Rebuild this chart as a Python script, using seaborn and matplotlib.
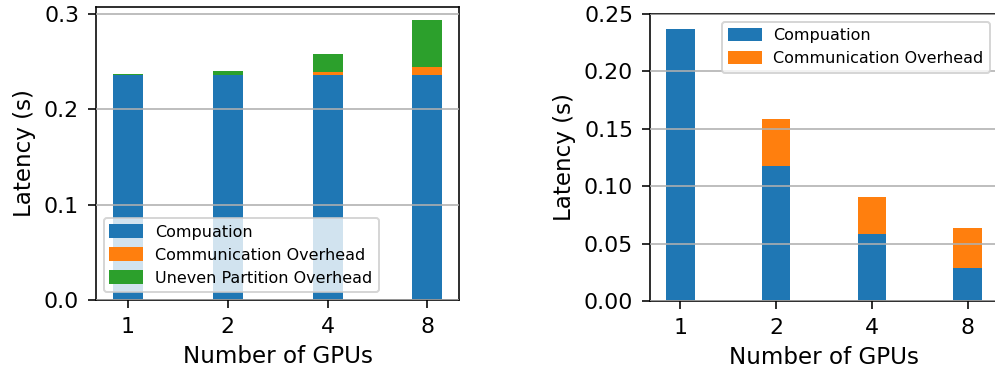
import matplotlib
matplotlib.use("Agg")
import matplotlib.pyplot as plt
import matplotlib.patches as mpatches
import pandas as pd
import seaborn as sns

# GPU counts shown on the x axis
gpus = ["1", "2", "4", "8"]

# Left panel: latency breakdown (seconds)
left_compute = [0.2357, 0.2357, 0.2357, 0.2357]
left_comm = [0.0000, 0.0000, 0.0034, 0.0087]
left_uneven = [0.0015, 0.0045, 0.0189, 0.0493]

# Right panel: latency breakdown (seconds)
right_compute = [0.2365, 0.1178, 0.0585, 0.0288]
right_comm = [0.0007, 0.0410, 0.0323, 0.0349]

labels = ["Compuation", "Communication Overhead", "Uneven Partition Overhead"]
colors = ["#1f77b4", "#ff7f0e", "#2ca02c"]

TICK_FS = 11
LABEL_FS = 11.5
LEGEND_FS = 8

DPI = 144
fig = plt.figure(figsize=(995 / DPI, 372 / DPI), dpi=DPI)
plt.rcParams["font.family"] = ["DejaVu Sans"]

ax1 = fig.add_axes([0.0965, 0.1935, 0.3648, 0.7876])
ax2 = fig.add_axes([0.6533, 0.1909, 0.3497, 0.7715])


def stacked(ax, layers, n_layers):
    # cumulative heights, drawn tallest first so lower segments sit on top
    cum = []
    running = [0.0] * len(gpus)
    for layer in layers:
        running = [r + v for r, v in zip(running, layer)]
        cum.append(list(running))
    for i in reversed(range(n_layers)):
        df = pd.DataFrame({"gpus": gpus, "latency": cum[i]})
        sns.barplot(data=df, x="gpus", y="latency", order=gpus, color=colors[i],
                    saturation=1, width=0.3, errorbar=None, ax=ax)
    ax.set_xlim(-0.315, 3.315)
    ax.set_xlabel("Number of GPUs", fontsize=LABEL_FS)
    ax.set_ylabel("Latency (s)", fontsize=LABEL_FS)
    ax.tick_params(labelsize=TICK_FS, length=4, pad=4.5)
    ax.yaxis.grid(True, color="#b0b0b0", linewidth=0.8)
    ax.xaxis.grid(False)
    ax.set_axisbelow(False)
    for s in ax.spines.values():
        s.set_visible(True)
        s.set_linewidth(0.8)
        s.set_color("black")
    handles = [mpatches.Patch(color=colors[i], label=labels[i]) for i in range(n_layers)]
    return handles


h1 = stacked(ax1, [left_compute, left_comm, left_uneven], 3)
ax1.set_ylim(0, 0.3075)
ax1.set_yticks([0.0, 0.1, 0.2, 0.3])
ax1.set_yticklabels(["0.0", "0.1", "0.2", "0.3"])
ax1.legend(handles=h1, loc="lower left", fontsize=LEGEND_FS)

h2 = stacked(ax2, [right_compute, right_comm], 2)
ax2.set_ylim(0, 0.25)
ax2.set_yticks([0.0, 0.05, 0.10, 0.15, 0.20, 0.25])
ax2.set_yticklabels(["0.00", "0.05", "0.10", "0.15", "0.20", "0.25"])
ax2.legend(handles=h2, loc="upper right", fontsize=LEGEND_FS)

fig.savefig("out.png", dpi=DPI)
